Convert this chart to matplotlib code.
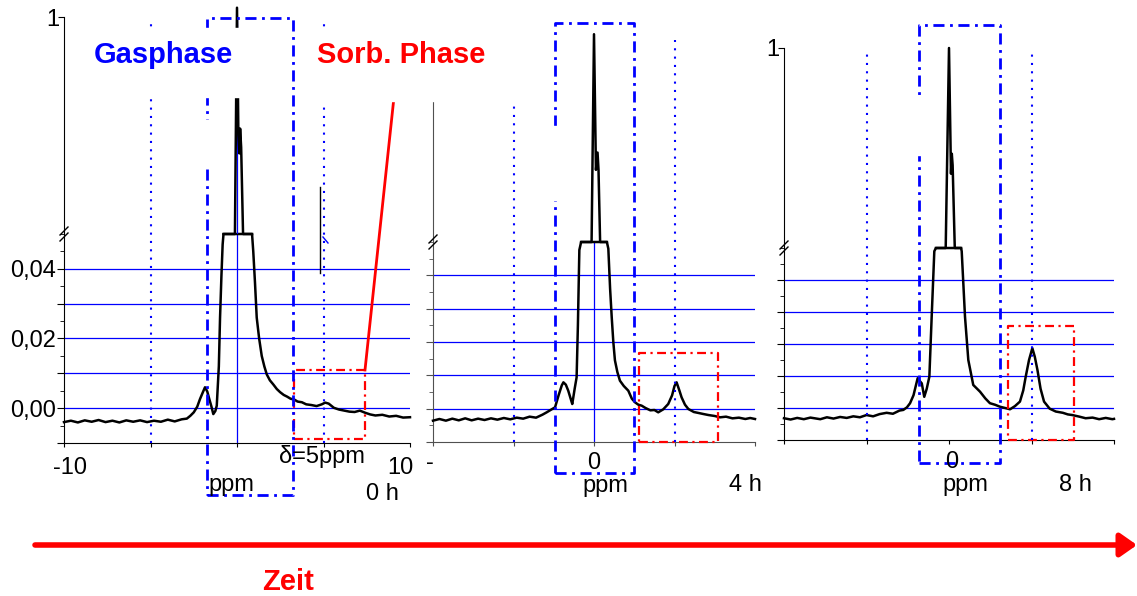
import numpy as np
import matplotlib
matplotlib.use('Agg')
import matplotlib.pyplot as plt
from matplotlib.transforms import blended_transform_factory
from matplotlib.patches import Rectangle
from matplotlib.ticker import MultipleLocator

plt.rcParams['font.family'] = ['Liberation Sans', 'DejaVu Sans']

# ---- data (ppm, normalised intensity) ----
ppm_0h = [-10.0, -9.6, -9.2, -8.8, -8.4, -8.0, -7.6, -7.2, -6.8, -6.4, -6.0, -5.6, -5.2, -4.8,
          -4.4, -4.0, -3.6, -3.2, -2.9, -2.7, -2.5, -2.3, -2.14, -1.98, -1.85, -1.72, -1.6,
          -1.48, -1.37, -1.25, -1.17, -1.05, -0.98, -0.9, -0.83, -0.78, -0.5, -0.25, -0.12,
          0.0, 0.08, 0.14, 0.18, 0.24, 0.35, 0.6, 0.87, 0.94, 1.04, 1.14, 1.28, 1.43, 1.58,
          1.72, 1.9, 2.1, 2.3, 2.49, 2.7, 2.9, 3.1, 3.3, 3.5, 3.75, 4.0, 4.3, 4.6, 4.9, 5.1,
          5.3, 5.6, 5.9, 6.2, 6.5, 6.8, 7.1, 7.4, 7.7, 8.0, 8.4, 8.8, 9.2, 9.6, 10.0]
int_0h = [-0.0040, -0.0036, -0.0041, -0.0035, -0.0039, -0.0034, -0.0040, -0.0036, -0.0041,
          -0.0035, -0.0039, -0.0035, -0.0040, -0.0036, -0.0039, -0.0033, -0.0038, -0.0032,
          -0.0030, -0.0022, -0.0012, 0.0004, 0.0026, 0.0045, 0.0060, 0.0048, 0.0026, 0.0005,
          -0.0017, -0.0008, 0.0007, 0.0120, 0.0260, 0.0380, 0.0470, 0.060, 0.12, 0.20, 0.30,
          1.03, 0.62, 0.56, 0.64, 0.58, 0.30, 0.13, 0.056, 0.045, 0.036, 0.026, 0.020, 0.015,
          0.012, 0.0097, 0.0080, 0.0068, 0.0055, 0.0046, 0.0038, 0.0033, 0.0027, 0.0025,
          0.0019, 0.0017, 0.0011, 0.0009, 0.0006, 0.0011, 0.0016, 0.0013, 0.0001, -0.0004,
          -0.0007, -0.0010, -0.0011, -0.0007, -0.0013, -0.0018, -0.0021, -0.0019, -0.0024,
          -0.0022, -0.0027, -0.0026]

ppm_4h = [-10.0, -9.6, -9.2, -8.8, -8.4, -8.0, -7.6, -7.2, -6.8, -6.4, -6.0, -5.6, -5.2, -4.8,
          -4.4, -4.0, -3.6, -3.2, -2.94, -2.7, -2.42, -2.2, -2.0, -1.9, -1.75, -1.6, -1.45,
          -1.35, -1.2, -1.08, -1.0, -0.91, -0.8, -0.5, -0.3, -0.15, 0.0, 0.12, 0.22, 0.28,
          0.38, 0.6, 0.8, 0.89, 1.0, 1.1, 1.2, 1.3, 1.45, 1.61, 1.85, 2.13, 2.35, 2.55, 2.75,
          2.96, 3.2, 3.5, 3.75, 3.99, 4.3, 4.61, 4.85, 5.0, 5.13, 5.3, 5.44, 5.65, 5.86, 6.2,
          6.5, 6.79, 7.1, 7.5, 7.83, 8.2, 8.6, 9.0, 9.4, 9.7, 10.0]
int_4h = [-0.0036, -0.0031, -0.0036, -0.0030, -0.0035, -0.0029, -0.0035, -0.0030, -0.0034,
          -0.0029, -0.0033, -0.0028, -0.0032, -0.0027, -0.0030, -0.0024, -0.0027, -0.0018,
          -0.0011, -0.0004, 0.0004, 0.0040, 0.0070, 0.0079, 0.0072, 0.0054, 0.0030, 0.0014,
          0.0060, 0.0094, 0.025, 0.0476, 0.06, 0.12, 0.20, 0.30, 1.02, 0.55, 0.61, 0.55, 0.30,
          0.12, 0.06, 0.048, 0.036, 0.0275, 0.020, 0.0145, 0.011, 0.0084, 0.0068, 0.0054,
          0.0030, 0.0019, 0.0012, 0.0009, 0.0002, -0.0005, -0.0004, -0.0011, -0.0002, 0.0014,
          0.0040, 0.0068, 0.0079, 0.0055, 0.0034, 0.0012, -0.0001, -0.0010, -0.0013, -0.0016,
          -0.0019, -0.0022, -0.0026, -0.0024, -0.0029, -0.0027, -0.0031, -0.0028, -0.0031]

ppm_8h = [-10.0, -9.6, -9.2, -8.8, -8.4, -7.8, -7.4, -7.0, -6.6, -6.2, -5.8, -5.4, -5.0, -4.6,
          -4.2, -3.78, -3.4, -3.0, -2.77, -2.55, -2.36, -2.15, -1.9, -1.78, -1.65, -1.5, -1.35,
          -1.19, -1.05, -0.89, -0.79, -0.5, -0.2, 0.0, 0.12, 0.17, 0.22, 0.35, 0.55, 0.73,
          0.77, 0.97, 1.17, 1.47, 1.88, 2.2, 2.48, 2.8, 3.09, 3.4, 3.7, 4.0, 4.3, 4.5, 4.65,
          4.85, 5.05, 5.2, 5.36, 5.55, 5.76, 6.1, 6.47, 6.9, 7.2, 7.47, 7.9, 8.28, 8.7, 9.1,
          9.5, 9.9, 10.0]
int_8h = [-0.0032, -0.0036, -0.0031, -0.0035, -0.0030, -0.0035, -0.0029, -0.0033, -0.0028,
          -0.0031, -0.0026, -0.0029, -0.0022, -0.0026, -0.0019, -0.0015, -0.0018, -0.0008,
          -0.0006, 0.0002, 0.0015, 0.0040, 0.0093, 0.0085, 0.0077, 0.0035, 0.0060, 0.0098,
          0.0285, 0.049, 0.06, 0.12, 0.30, 1.0, 0.56, 0.63, 0.59, 0.30, 0.12, 0.06, 0.049,
          0.0285, 0.015, 0.0072, 0.0051, 0.0030, 0.0015, 0.0010, 0.0004, 0.0000, -0.0004,
          0.0006, 0.0020, 0.0055, 0.0098, 0.0150, 0.0187, 0.0160, 0.0119, 0.0060, 0.0020,
          -0.0002, -0.0011, -0.0015, -0.0020, -0.0022, -0.0027, -0.0032, -0.0030, -0.0035,
          -0.0031, -0.0035, -0.0034]

times = ['0 h', '4 h', '8 h']
grid_levels = [0.0, 0.01, 0.02, 0.03, 0.04]
ytick_vals = [-0.01, 0.0, 0.01, 0.02, 0.03, 0.04]
ytick_text = ['', '0,00', '', '0,02', '', '0,04']
# gas phase window (ppm) and sorbed phase window (ppm, intensity)
gas_win = [(-1.73, 3.24), (-2.42, 2.48), (-1.82, 3.09)]
sorb_win = [(3.3, 7.4, -0.0089, 0.0111), (2.8, 7.7, -0.01, 0.0166), (3.58, 7.58, -0.01, 0.0256)]

BREAK = 0.3   # lower end of the upper (broken) axis
LOWTOP = 0.05

W, H = 1137, 596
fig = plt.figure(figsize=(W / 100, H / 100), dpi=100)

def px_axes(x0, x1, ytop, ybot):
    return fig.add_axes([x0 / W, 1 - ybot / H, (x1 - x0) / W, (ybot - ytop) / H])

# layout of the three panels in pixels
layout = [
    dict(x0=64, x1=410, top=17, brk=234, bot=443, spine='black', box=(18, 495), dots=(20, 20)),
    dict(x0=433, x1=755, top=40, brk=242, bot=442, spine='#505050', box=(23, 473), dots=(105, 40)),
    dict(x0=784, x1=1114, top=48, brk=248, bot=440, spine='black', box=(25, 463), dots=(52, 52)),
]
ppms = [ppm_0h, ppm_4h, ppm_8h]
ints = [int_0h, int_4h, int_8h]

ov = fig.add_axes([0, 0, 1, 1], zorder=10)
ov.set_xlim(0, W)
ov.set_ylim(H, 0)
ov.axis('off')

dashdot = (0, (4, 2, 1, 2))
blue = '#0000ff'

for i, L in enumerate(layout):
    axl = px_axes(L['x0'], L['x1'], L['brk'], L['bot'])
    axu = px_axes(L['x0'], L['x1'], L['top'], L['brk'])
    for ax in (axl, axu):
        ax.patch.set_alpha(0)
        ax.set_xlim(-10, 10)
        for s in ('top', 'right'):
            ax.spines[s].set_visible(False)
        ax.spines['left'].set_color(L['spine'])
        ax.spines['bottom'].set_color(L['spine'])
    axl.set_ylim(-0.01, LOWTOP)
    axu.set_ylim(BREAK, 1.0)
    axu.spines['bottom'].set_visible(False)
    axu.set_xticks([])

    labels = ytick_text if i == 0 else [''] * len(ytick_text)
    axl.set_yticks(ytick_vals, labels=labels)
    axl.yaxis.set_minor_locator(MultipleLocator(0.005))
    axl.tick_params(axis='y', which='major', direction='out', length=5, pad=1,
                    labelsize=17, color=L['spine'])
    axl.tick_params(axis='y', which='minor', direction='out', length=3, color=L['spine'])
    axl.set_xticks([-10, -5, 0, 5, 10], labels=[''] * 5)
    axl.tick_params(axis='x', direction='out', length=3, color=L['spine'])
    # the "1" of the middle panel is hidden under the text field
    axu.set_yticks([1.0], labels=[''] if i == 1 else ['1'])
    axu.tick_params(axis='y', direction='out', length=4, pad=-1, labelsize=17, color=L['spine'])

    for g in grid_levels:
        axl.axhline(g, color=blue, lw=0.9, zorder=1)
    if i < 2:
        axl.axvline(0, color=blue, lw=0.9, zorder=1)
    if i == 0:
        axu.axvline(0, color=blue, lw=0.9, zorder=1)

    x = np.array(ppms[i])
    y = np.array(ints[i])
    axl.plot(x, np.minimum(y, LOWTOP), color='black', lw=1.8, zorder=3, clip_on=False)
    up = np.where(y >= LOWTOP, np.maximum(y, BREAK), np.nan)
    axu.plot(x, up, color='black', lw=1.8, zorder=3, clip_on=False)

    # sorbed phase window
    a, b, lo, hi = sorb_win[i]
    axl.plot([a, b, b, a, a], [lo, lo, hi, hi, lo], color='red', lw=1.6, ls=dashdot,
             clip_on=False, zorder=4)

    # gas phase window and +-5 ppm markers (x in ppm, y in pixels)
    tr = blended_transform_factory(axl.transData, ov.transData)
    a, b = gas_win[i]
    yt, yb = L['box']
    ov.plot([a, b, b, a, a], [yb, yb, yt, yt, yb], transform=tr, color=blue, lw=2.0,
            ls=dashdot, zorder=1)
    ov.plot([-5, -5], [L['bot'], L['dots'][0]], transform=tr, color=blue, lw=1.5,
            ls=(0, (1, 3)), zorder=1)
    ov.plot([5, 5], [L['bot'], L['dots'][1]], transform=tr, color=blue, lw=1.5,
            ls=(0, (1, 3)), zorder=1)

    # axis break marks
    xb, yk = L['x0'], L['brk']
    for d in (-3, 3):
        ov.plot([xb - 4, xb + 4], [yk + d + 4, yk + d - 4], color='black', lw=1, zorder=3)

# leftovers from the slide
ov.plot([319.5, 319.5], [187, 273], color='black', lw=1, zorder=1)
ov.plot([323, 328], [237, 243], color=blue, lw=1, zorder=1)
ov.plot([365, 394], [370, 97], color='red', lw=2, zorder=1)

# white boxes of the text fields that cover parts of the drawing
for (x0, y0, x1, y1) in [(70, 28, 288, 97), (298, 28, 540, 101), (200, 120, 214, 165),
                         (549, 126, 561, 200), (913, 100, 925, 155)]:
    ov.add_patch(Rectangle((x0, y0), x1 - x0, y1 - y0, color='white', zorder=2))

ov.text(163, 55, 'Gasphase', color=blue, fontsize=21, fontweight='bold', ha='center',
        va='center', zorder=3)
ov.text(401, 55, 'Sorb. Phase', color='red', fontsize=21, fontweight='bold', ha='center',
        va='center', zorder=3)

fs = 17
ov.text(70, 468, '-10', fontsize=fs, ha='center', va='center', zorder=3)
ov.text(400, 468, '10', fontsize=fs, ha='center', va='center', zorder=3)
ov.text(322, 457, 'δ=5ppm', fontsize=fs, ha='center', va='center', zorder=3)
ov.text(231, 485, 'ppm', fontsize=fs, ha='center', va='center', zorder=3)
ov.text(382, 494, times[0], fontsize=fs, ha='center', va='center', zorder=3)

ov.text(430, 463, '-', fontsize=fs, ha='center', va='center', zorder=3)
ov.text(594, 463, '0', fontsize=fs, ha='center', va='center', zorder=3)
ov.text(605, 486, 'ppm', fontsize=fs, ha='center', va='center', zorder=3)
ov.text(745, 485, times[1], fontsize=fs, ha='center', va='center', zorder=3)

ov.text(952, 462, '0', fontsize=fs, ha='center', va='center', zorder=3)
ov.text(965, 485, 'ppm', fontsize=fs, ha='center', va='center', zorder=3)
ov.text(1075, 485, times[2], fontsize=fs, ha='center', va='center', zorder=3)

# time arrow
ov.annotate('', xy=(1137, 545), xytext=(35, 545), zorder=3, annotation_clip=False,
            arrowprops=dict(arrowstyle='-|>,head_length=0.5,head_width=0.35', color='red',
                            lw=4, mutation_scale=20, shrinkA=0, shrinkB=0))
ov.text(288, 582, 'Zeit', color='red', fontsize=21, fontweight='bold', ha='center',
        va='center', zorder=3)

fig.savefig('out.png', dpi=100)
